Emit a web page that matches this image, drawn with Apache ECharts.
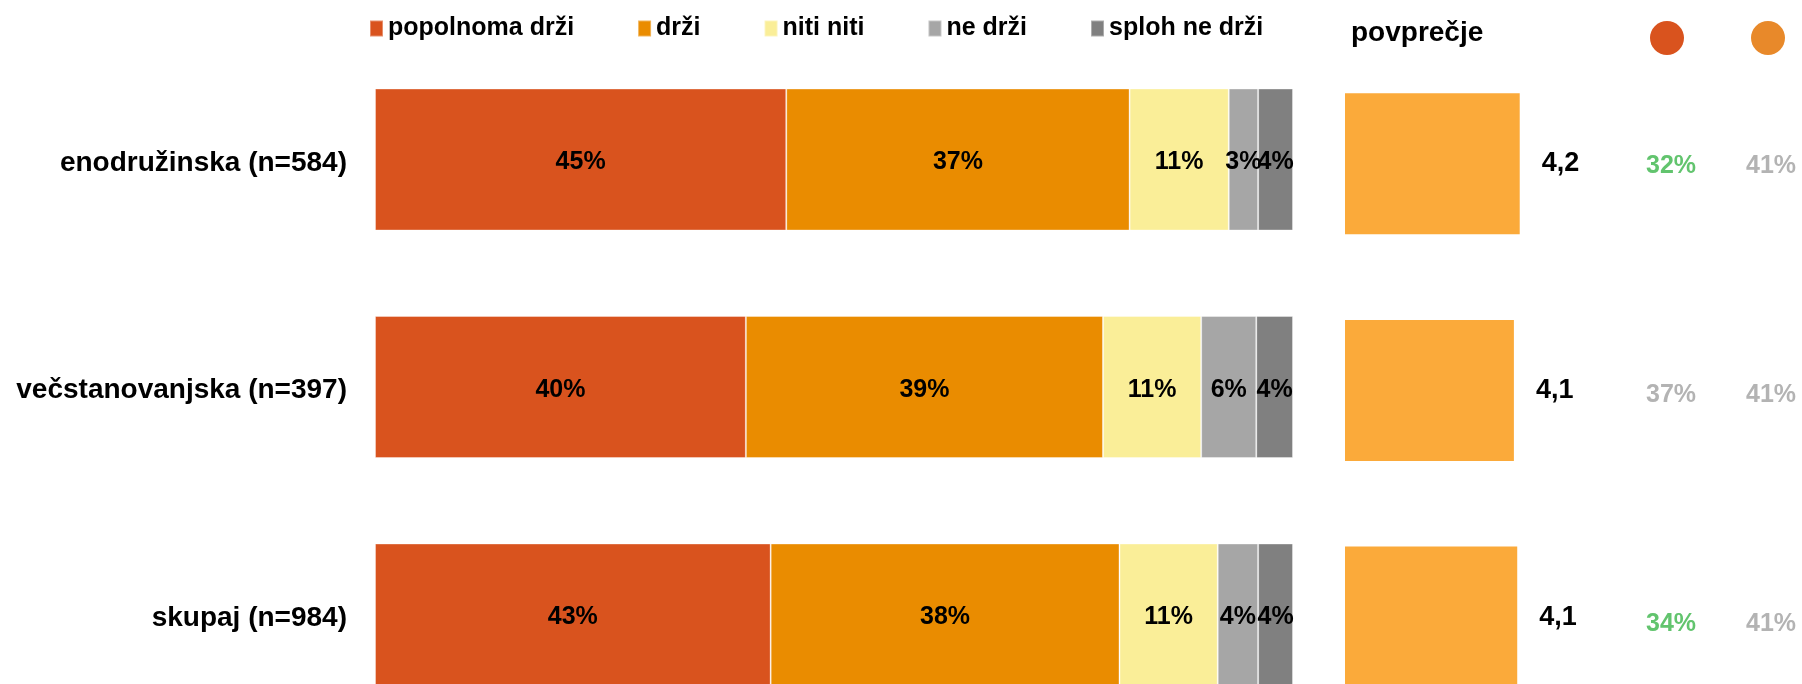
<!DOCTYPE html>
<html>
<head>
<meta charset="utf-8">
<script src="https://cdn.jsdelivr.net/npm/echarts@6/dist/echarts.min.js"></script>
<style>
  html, body { margin: 0; padding: 0; background: #fff; }
  #chart { width: 1802px; height: 684px; }
</style>
</head>
<body>
<div id="chart"></div>
<script>
// podatki
var categories = ['enodružinska (n=584)', 'večstanovanjska (n=397)', 'skupaj (n=984)'];
var popolnomaDrzi = [44.8, 40.4, 43.1];
var drzi = [37.4, 38.9, 38.0];
var nitiNiti = [10.8, 10.7, 10.7];
var neDrzi = [3.2, 6.0, 4.4];
var splohNeDrzi = [3.8, 4.0, 3.8];
var povprecje = [4.20, 4.06, 4.14];
var delez1 = [32, 37, 34];
var delez1Izstopa = [true, false, true];
var delez2 = [41, 41, 41];

var FONT = 'Liberation Sans, Arial, sans-serif';

var chart = echarts.init(document.getElementById('chart'));

function stackSeries(name, data, color) {
    return {
        name: name,
        type: 'bar',
        stack: 'odg',
        xAxisIndex: 0,
        yAxisIndex: 0,
        barWidth: 142,
        itemStyle: { color: color, borderColor: 'rgba(255,255,255,0.35)', borderWidth: 1 },
        label: {
            show: true,
            position: 'inside',
            offset: [0, 3],
            color: '#000',
            fontFamily: FONT,
            fontWeight: 'bold',
            fontSize: 25,
            formatter: function (p) { return Math.round(p.value) + '%'; }
        },
        emphasis: { disabled: true },
        data: data
    };
}

chart.setOption({
    animation: false,
    title: {
        text: 'povprečje',
        left: 1351,
        top: 19,
        padding: 0,
        textStyle: { fontFamily: FONT, fontWeight: 'bold', fontSize: 28, color: '#000' }
    },
    legend: {
        left: 364,
        top: 11,
        itemWidth: 13,
        itemHeight: 16,
        itemGap: 63,
        icon: 'rect',
        textStyle: { fontFamily: FONT, fontWeight: 'bold', fontSize: 25, color: '#000' },
        data: ['popolnoma drži', 'drži', 'niti niti', 'ne drži', 'sploh ne drži']
    },
    graphic: [
        { type: 'circle', shape: { cx: 1667, cy: 38, r: 17 }, style: { fill: '#D9531E' } },
        { type: 'circle', shape: { cx: 1768, cy: 38, r: 17 }, style: { fill: '#E8892A' } }
    ],
    grid: [
        { left: 375, width: 918, top: 45.75, height: 682.5, outerBoundsMode: 'none', containLabel: false },
        { left: 1345, width: 208, top: 50.4, height: 680, outerBoundsMode: 'none', containLabel: false },
        { left: 1671, width: 100, top: 50, height: 686, outerBoundsMode: 'none', containLabel: false }
    ],
    xAxis: [
        { type: 'value', gridIndex: 0, min: 0, max: 100, show: false },
        { type: 'value', gridIndex: 1, min: 0, max: 5, show: false },
        { type: 'value', gridIndex: 2, min: 0, max: 1, show: false }
    ],
    yAxis: [
        {
            type: 'category', gridIndex: 0, inverse: true, data: categories,
            axisLine: { show: false }, axisTick: { show: false },
            axisLabel: {
                margin: 28,
                formatter: function (v) { return '{k|' + v + '}'; },
                rich: {
                    k: {
                        padding: [7, 0, 0, 0], color: '#000',
                        fontFamily: FONT, fontWeight: 'bold', fontSize: 28
                    }
                }
            }
        },
        { type: 'category', gridIndex: 1, inverse: true, data: categories, show: false },
        { type: 'category', gridIndex: 2, inverse: true, data: categories, show: false }
    ],
    series: [
        stackSeries('popolnoma drži', popolnomaDrzi, '#D9531E'),
        stackSeries('drži', drzi, '#EA8C00'),
        stackSeries('niti niti', nitiNiti, '#FAEE98'),
        stackSeries('ne drži', neDrzi, '#A6A6A6'),
        stackSeries('sploh ne drži', splohNeDrzi, '#808080'),
        {
            name: 'povprečje',
            type: 'bar',
            xAxisIndex: 1,
            yAxisIndex: 1,
            barWidth: 141,
            itemStyle: { color: '#FBAA3A' },
            label: {
                show: true,
                position: 'right',
                distance: 22,
                color: '#000',
                fontFamily: FONT,
                fontWeight: 'bold',
                fontSize: 27,
                formatter: function (p) { return p.value.toFixed(1).replace('.', ','); }
            },
            emphasis: { disabled: true },
            data: povprecje
        },
        {
            name: 'delez1',
            type: 'scatter',
            xAxisIndex: 2,
            yAxisIndex: 2,
            symbolSize: 0,
            label: {
                show: true,
                position: 'inside',
                offset: [0, 2],
                fontFamily: FONT,
                fontWeight: 'bold',
                fontSize: 25,
                formatter: function (p) { return delez1[p.dataIndex] + '%'; }
            },
            emphasis: { disabled: true },
            data: delez1.map(function (v, i) {
                return {
                    value: [0, i],
                    label: { color: delez1Izstopa[i] ? '#3BB54A' : '#A0A0A0' }
                };
            })
        },
        {
            name: 'delez2',
            type: 'scatter',
            xAxisIndex: 2,
            yAxisIndex: 2,
            symbolSize: 0,
            label: {
                show: true,
                position: 'inside',
                offset: [0, 2],
                color: '#A0A0A0',
                fontFamily: FONT,
                fontWeight: 'bold',
                fontSize: 25,
                formatter: function (p) { return delez2[p.dataIndex] + '%'; }
            },
            emphasis: { disabled: true },
            data: delez2.map(function (v, i) { return [1, i]; })
        }
    ]
});
</script>
</body>
</html>
